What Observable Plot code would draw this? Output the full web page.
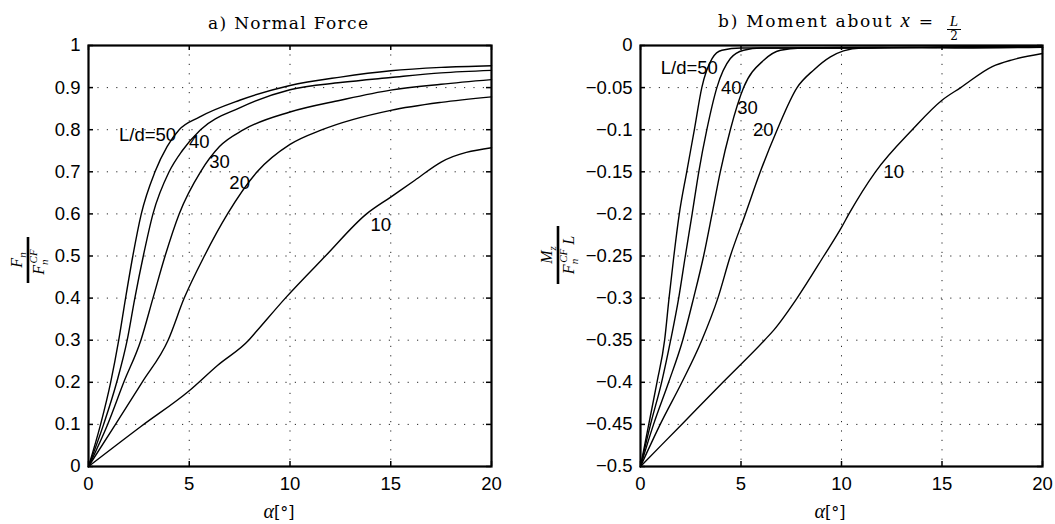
<!DOCTYPE html>
<html><head><meta charset="utf-8">
<script src="https://cdn.jsdelivr.net/npm/d3@7"></script>
<script src="https://cdn.jsdelivr.net/npm/@observablehq/plot@0.6"></script>
<style>
body{margin:0;background:#fff;}
#wrap{position:relative;width:1055px;height:524px;overflow:hidden;background:#fff;}
#wrap svg{position:absolute;top:0;overflow:visible;font-family:"Liberation Sans",Arial,sans-serif;font-size:18.5px;}
#wrap svg g[aria-label="x-axis tick label"] text,
#wrap svg g[aria-label="y-axis tick label"] text,
#wrap svg g[aria-label="text"] text{font-family:"Liberation Sans",Arial,sans-serif;font-size:18.5px;}
</style></head><body><div id="wrap"></div>
<script>
// ---------- data ----------
const xTicks = [0, 5, 10, 15, 20];
const nfTicks = [0, 0.1, 0.2, 0.3, 0.4, 0.5, 0.6, 0.7, 0.8, 0.9, 1];
const mzTicks = [0, -0.05, -0.1, -0.15, -0.2, -0.25, -0.3, -0.35, -0.4, -0.45, -0.5];

// a) Normal force  Fn / Fn^CF
const nf50Alpha = [0, 0.6, 1.1, 1.5, 1.84, 2.2, 2.62, 3.3, 3.9, 4.5, 5.5, 7.5, 10, 12.5, 15, 17.5, 20];
const nf50Value = [0, 0.1, 0.2, 0.3, 0.4, 0.5, 0.6, 0.7, 0.76, 0.8, 0.83, 0.87, 0.905, 0.925, 0.94, 0.948, 0.952];
const nf40Alpha = [0, 0.75, 1.4, 1.92, 2.3, 2.72, 3.2, 4.0, 4.65, 5.56, 7.5, 10, 12.5, 15, 17.5, 20];
const nf40Value = [0, 0.1, 0.2, 0.3, 0.4, 0.5, 0.6, 0.7, 0.75, 0.8, 0.852, 0.895, 0.912, 0.924, 0.935, 0.941];
const nf30Alpha = [0, 0.95, 1.75, 2.6, 3.2, 3.8, 4.5, 5.56, 6.5, 7.7, 10, 12.5, 15, 17.5, 20];
const nf30Value = [0, 0.1, 0.2, 0.3, 0.4, 0.5, 0.6, 0.7, 0.76, 0.8, 0.842, 0.87, 0.894, 0.908, 0.919];
const nf20Alpha = [0, 1.34, 2.66, 3.95, 4.75, 5.75, 6.9, 8.37, 10, 11.6, 15, 17.5, 20];
const nf20Value = [0, 0.1, 0.2, 0.3, 0.4, 0.5, 0.6, 0.7, 0.765, 0.8, 0.846, 0.865, 0.878];
const nf10Alpha = [0, 2.6, 5, 6.4, 7.95, 8.37, 9.77, 11.76, 13.8, 15, 16.2, 17.5, 20];
const nf10Value = [0, 0.095, 0.18, 0.24, 0.3, 0.323, 0.4, 0.5, 0.6, 0.64, 0.68, 0.723, 0.757];

// b) Moment about x = L/2   Mz / (Fn^CF L)
const mz50Alpha = [0, 0.41, 0.82, 1.2, 1.42, 1.66, 1.93, 2.3, 2.68, 3.05, 3.56, 4.05, 5, 10, 15, 20];
const mz50Value = [-0.5, -0.45, -0.4, -0.35, -0.3, -0.25, -0.2, -0.15, -0.1, -0.05, -0.0155, -0.0056, -0.003, -0.003, -0.002, -0.002];
const mz40Alpha = [0, 0.5, 1.05, 1.5, 1.9, 2.23, 2.57, 2.9, 3.3, 3.8, 4.47, 5.13, 6, 10, 15, 20];
const mz40Value = [-0.5, -0.45, -0.4, -0.35, -0.3, -0.25, -0.2, -0.15, -0.1, -0.05, -0.0155, -0.0056, -0.003, -0.003, -0.002, -0.002];
const mz30Alpha = [0, 0.65, 1.4, 2.1, 2.64, 3.14, 3.56, 3.97, 4.47, 5.13, 6.13, 6.96, 8, 12, 16, 20];
const mz30Value = [-0.5, -0.45, -0.4, -0.35, -0.3, -0.25, -0.2, -0.15, -0.1, -0.05, -0.0175, -0.0056, -0.003, -0.002, -0.003, -0.002];
const mz20Alpha = [0, 0.98, 2.06, 3.05, 3.85, 4.47, 5.22, 5.96, 6.8, 7.79, 8.62, 9.45, 10.1, 11, 15, 18, 20];
const mz20Value = [-0.5, -0.45, -0.4, -0.35, -0.3, -0.25, -0.2, -0.15, -0.1, -0.05, -0.029, -0.0135, -0.0063, -0.003, -0.002, -0.001, -0.002];
const mz10Alpha = [0, 2.05, 4.1, 6.17, 6.63, 7.79, 9.12, 10, 10.37, 11.69, 13.52, 15, 15.93, 17.5, 18.5, 20];
const mz10Value = [-0.5, -0.45, -0.4, -0.35, -0.338, -0.3, -0.25, -0.216, -0.2, -0.15, -0.1, -0.065, -0.05, -0.025, -0.017, -0.0095];

// curve labels (anchored in data coordinates)
const nfLabelText  = ["L/d=50", "40", "30", "20", "10"];
const nfLabelAlpha = [2.93, 5.5, 6.5, 7.5, 14.5];
const nfLabelValue = [0.787, 0.77, 0.723, 0.674, 0.573];
const mzLabelText  = ["L/d=50", "40", "30", "20", "10"];
const mzLabelAlpha = [2.43, 4.52, 5.32, 6.11, 12.6];
const mzLabelValue = [-0.027, -0.0508, -0.0745, -0.1, -0.15];

// ---------- build tables ----------
function table(pairs) {
  const rows = [];
  for (const [ld, xs, ys] of pairs) xs.forEach((x, i) => rows.push({ld, alpha: x, value: ys[i]}));
  return rows;
}
const nfData = table([[50, nf50Alpha, nf50Value], [40, nf40Alpha, nf40Value], [30, nf30Alpha, nf30Value], [20, nf20Alpha, nf20Value], [10, nf10Alpha, nf10Value]]);
const mzData = table([[50, mz50Alpha, mz50Value], [40, mz40Alpha, mz40Value], [30, mz30Alpha, mz30Value], [20, mz20Alpha, mz20Value], [10, mz10Alpha, mz10Value]]);
const nfLabels = nfLabelText.map((t, i) => ({t, alpha: nfLabelAlpha[i], value: nfLabelValue[i]}));
const mzLabels = mzLabelText.map((t, i) => ({t, alpha: mzLabelAlpha[i], value: mzLabelValue[i]}));

const serif = "DejaVu Serif";
const math = "Liberation Serif";
const fmt = d => d === 0 ? "0" : String(d).replace("-", "\u2212");

function panel({width, ml, mr, yDomain, yTicks, data, labels}) {
  const H = 524, mt = 45, mb = 58;
  const fw = width - ml - mr, fh = H - mt - mb, t = 5;
  const dots = {stroke: "#000", strokeOpacity: 0.85, strokeWidth: 1, strokeDasharray: "1.2,8.2"};
  return Plot.plot({
    width, height: H, marginLeft: ml, marginRight: mr, marginTop: mt, marginBottom: mb,
    x: {domain: [0, 20]},
    y: {domain: yDomain},
    style: {color: "#000", background: "transparent", overflow: "visible"},
    marks: [
      Plot.gridX(xTicks, dots),
      Plot.gridY(yTicks, dots),
      Plot.axisX(xTicks, {tickSize: 0, tickPadding: 10, label: null, tickFormat: fmt}),
      Plot.axisY(yTicks, {tickSize: 0, tickPadding: 8, label: null, tickFormat: fmt}),
      Plot.ruleX(xTicks, {insetTop: fh - t, stroke: "#000", strokeWidth: 1.5}),
      Plot.ruleX(xTicks, {insetBottom: fh - t, stroke: "#000", strokeWidth: 1.5}),
      Plot.ruleY(yTicks, {insetRight: fw - t, stroke: "#000", strokeWidth: 1.5}),
      Plot.ruleY(yTicks, {insetLeft: fw - t, stroke: "#000", strokeWidth: 1.5}),
      Plot.line(data, {x: "alpha", y: "value", z: "ld", stroke: "#000", strokeWidth: 1.4, curve: "monotone-x"}),
      Plot.text(labels, {x: "alpha", y: "value", text: "t", fill: "#000"}),
      Plot.frame({stroke: "#000", strokeWidth: 2.2})
    ]
  });
}

const wrap = document.getElementById("wrap");
const svgA = panel({width: 527, ml: 88, mr: 36, yDomain: [0, 1], yTicks: nfTicks, data: nfData, labels: nfLabels});
const svgB = panel({width: 528, ml: 113, mr: 13, yDomain: [-0.5, 0], yTicks: mzTicks, data: mzData, labels: mzLabels});
svgA.style.left = "0px";
svgB.style.left = "527px";
wrap.appendChild(svgA);
wrap.appendChild(svgB);

// ---------- titles and axis labels ----------
function xLabel(svg, cx) {
  const t = d3.select(svg).append("text").attr("x", cx).attr("y", 518)
    .attr("text-anchor", "middle").attr("fill", "#000");
  t.append("tspan").attr("font-family", math).attr("font-style", "italic").attr("font-size", 20).text("\u03b1");
  t.append("tspan").attr("font-family", serif).attr("font-size", 16).text("[\u00b0]");
}
xLabel(svgA, 279);
xLabel(svgB, 830 - 527);

// left title
d3.select(svgA).append("text").attr("x", 208).attr("y", 29).attr("text-anchor", "start")
  .attr("font-family", serif).attr("font-size", 17).attr("fill", "#000")
  .attr("textLength", 160).attr("lengthAdjust", "spacing")
  .text("a) Normal Force");

// right title with fraction L/2
{
  const g = d3.select(svgB).append("g");
  const t = g.append("text").attr("x", 718 - 527).attr("y", 27).attr("text-anchor", "start")
    .attr("font-family", serif).attr("font-size", 17).attr("fill", "#000")
    .attr("textLength", 215).attr("lengthAdjust", "spacing");
  t.append("tspan").text("b) Moment about ");
  t.append("tspan").attr("font-family", math).attr("font-style", "italic").attr("font-size", 21).text("x");
  t.append("tspan").text(" =");
  const fx = 954 - 527;
  g.append("text").attr("x", fx).attr("y", 26).attr("text-anchor", "middle").attr("font-family", math)
    .attr("font-style", "italic").attr("font-size", 15).attr("fill", "#000").text("L");
  g.append("line").attr("x1", fx - 7).attr("x2", fx + 7).attr("y1", 29.5).attr("y2", 29.5).attr("stroke", "#000").attr("stroke-width", 1);
  g.append("text").attr("x", fx).attr("y", 40).attr("text-anchor", "middle").attr("font-family", serif)
    .attr("font-size", 12).attr("fill", "#000").text("2");
}

// y labels as stacked fractions (rotated)
function fracLabel(svg, cx, cy, half, num, den) {
  const g = d3.select(svg).append("g").attr("transform", `translate(${cx},${cy}) rotate(-90)`);
  g.append("line").attr("x1", -half).attr("x2", half).attr("y1", 0).attr("y2", 0)
    .attr("stroke", "#000").attr("stroke-width", 2.6);
  const n = g.append("text").attr("x", 0).attr("y", -6).attr("text-anchor", "middle")
    .attr("font-family", math).attr("font-style", "italic").attr("font-size", 16).attr("fill", "#000");
  num(n);
  const d = g.append("text").attr("x", 0).attr("y", 16).attr("text-anchor", "middle")
    .attr("font-family", math).attr("font-style", "italic").attr("font-size", 16).attr("fill", "#000");
  den(d);
}
function fnCF(t) {
  t.append("tspan").text("F");
  t.append("tspan").attr("font-size", 11).attr("dy", 4).text("n");
  t.append("tspan").attr("font-size", 11).attr("dx", -4).attr("dy", -11).text("CF");
  t.append("tspan").attr("dy", 7).text(" ");
}
fracLabel(svgA, 28, 260, 23,
  t => { t.append("tspan").text("F"); t.append("tspan").attr("font-size", 11).attr("dy", 4).text("n"); },
  fnCF);
fracLabel(svgB, 558 - 527, 255, 29,
  t => { t.append("tspan").text("M"); t.append("tspan").attr("font-size", 11).attr("dy", 4).text("z"); },
  t => { fnCF(t); t.append("tspan").text("L"); });
</script>
</body></html>
